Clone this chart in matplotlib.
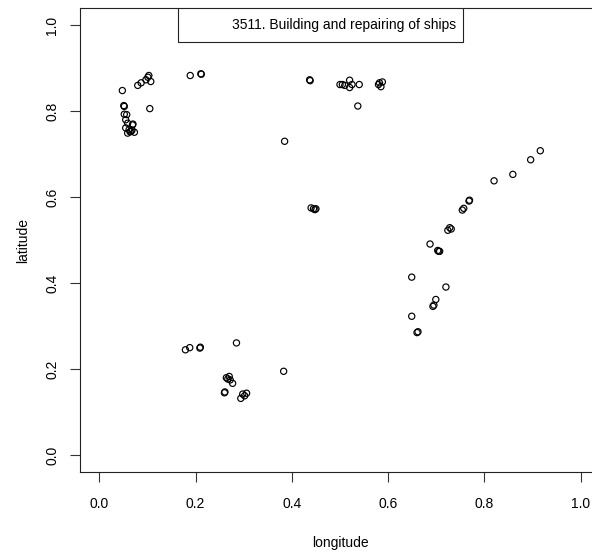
import matplotlib
matplotlib.use("Agg")
import matplotlib.pyplot as plt
from matplotlib.patches import Rectangle

plt.rcParams['font.family'] = ['Liberation Sans', 'DejaVu Sans']

# site positions (normalised)
lon = [0.189, 0.211, 0.212, 0.103, 0.101, 0.097, 0.107, 0.087, 0.080, 0.048,
       0.105, 0.051, 0.052, 0.052, 0.057, 0.055, 0.059, 0.069, 0.070, 0.055,
       0.062, 0.064, 0.066, 0.073, 0.059, 0.068,
       0.385, 0.437, 0.438, 0.440, 0.445, 0.450, 0.448,
       0.500, 0.505, 0.510, 0.520, 0.520, 0.525, 0.537, 0.540, 0.580, 0.582,
       0.588, 0.585,
       0.916, 0.896, 0.859, 0.820, 0.768, 0.769, 0.757, 0.754, 0.728, 0.731,
       0.724, 0.687, 0.705, 0.703, 0.707, 0.649, 0.720, 0.699, 0.693, 0.695,
       0.649, 0.660, 0.662,
       0.179, 0.188, 0.209, 0.210, 0.285, 0.383, 0.267, 0.264, 0.270, 0.272,
       0.277, 0.260, 0.261, 0.298, 0.294, 0.306, 0.302]
lat = [0.883, 0.887, 0.886, 0.883, 0.879, 0.873, 0.869, 0.866, 0.860, 0.848,
       0.806, 0.813, 0.811, 0.793, 0.792, 0.780, 0.772, 0.768, 0.770, 0.761,
       0.757, 0.752, 0.753, 0.751, 0.749, 0.756,
       0.730, 0.873, 0.871, 0.575, 0.573, 0.573, 0.571,
       0.862, 0.862, 0.860, 0.872, 0.855, 0.862, 0.812, 0.862, 0.862, 0.866,
       0.868, 0.857,
       0.708, 0.687, 0.653, 0.638, 0.591, 0.593, 0.574, 0.570, 0.529, 0.526,
       0.523, 0.491, 0.474, 0.476, 0.474, 0.414, 0.391, 0.362, 0.346, 0.349,
       0.323, 0.285, 0.287,
       0.245, 0.250, 0.249, 0.251, 0.261, 0.195, 0.177, 0.180, 0.183, 0.175,
       0.167, 0.145, 0.147, 0.142, 0.132, 0.144, 0.138]

title = "3511. Building and repairing of ships"
ticks = [0.0, 0.2, 0.4, 0.6, 0.8, 1.0]

fig = plt.figure(figsize=(5.92, 5.56), dpi=100)
ax = fig.add_axes([0.1351, 0.1505, 0.8784, 0.8351])
ax.scatter(lon, lat, s=20, facecolors='none', edgecolors='black', linewidths=0.85)
ax.set_xlim(-0.04, 1.04)
ax.set_ylim(-0.04, 1.04)
ax.set_xticks(ticks)
ax.set_yticks(ticks)
ax.set_xticklabels([f"{t:.1f}" for t in ticks])
ax.set_yticklabels([f"{t:.1f}" for t in ticks], rotation=90, va='center')
ax.tick_params(direction='out', length=7, width=0.8, labelsize=10,
               color='#333333')
ax.tick_params(axis='x', pad=11)
ax.tick_params(axis='y', pad=8)
for sp in ax.spines.values():
    sp.set_linewidth(0.8)
    sp.set_color('#222222')
ax.set_xlabel("longitude", fontsize=10, labelpad=18)
ax.set_ylabel("latitude", fontsize=10, labelpad=11)

# legend-like title box
ax.add_patch(Rectangle((0.1885, 0.9268), 0.548, 0.0732, transform=ax.transAxes,
                       facecolor='white', edgecolor='#222222', linewidth=0.8,
                       zorder=3))
ax.text(0.723, 0.963, title, transform=ax.transAxes, ha='right', va='center',
        fontsize=10, zorder=4)

fig.savefig("out.png", dpi=100)
